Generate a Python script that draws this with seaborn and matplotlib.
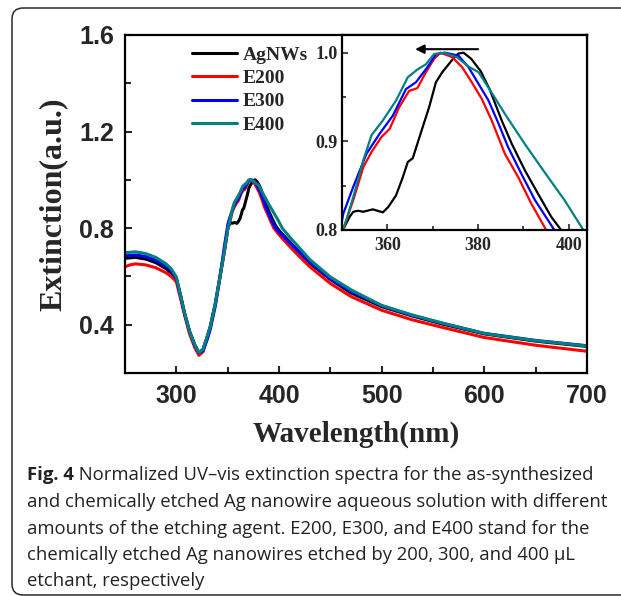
import numpy as np
import pandas as pd
import seaborn as sns
import matplotlib
matplotlib.use("Agg")
import matplotlib.pyplot as plt
from matplotlib.lines import Line2D
from matplotlib.patches import FancyBboxPatch

# ---------------- data ----------------
samples = ["AgNWs", "E200", "E300", "E400"]
colors = ["#000000", "#FF0000", "#0000FF", "#008080"]

wl_agnws = [250, 260, 270, 280, 290, 295, 300, 304, 308, 313, 318, 322, 326, 330, 333, 338, 342.5, 347,
            350.2, 351.7, 352.5, 353.5, 354.7, 356.8, 359.0, 360.2, 361.9, 363.3, 364.5, 365.6, 367.4,
            369.2, 370.7, 372.1, 374.3, 375.6, 376.8, 378.5, 380.6, 382.6, 385.2, 387.4, 390.3, 393.2,
            396.1, 398.3,
            402, 410, 420, 430, 450, 470, 500, 530, 560, 600, 650, 700]
ext_agnws = [0.675, 0.679, 0.672, 0.657, 0.632, 0.614, 0.588, 0.523, 0.447, 0.371, 0.316, 0.284, 0.298,
             0.350, 0.392, 0.489, 0.599, 0.710,
             0.800, 0.815, 0.8206, 0.8217, 0.8206, 0.8233, 0.8199, 0.826, 0.839, 0.858, 0.8767, 0.881,
             0.910, 0.9385, 0.9667, 0.978, 0.992, 0.999, 1.000, 0.993, 0.979, 0.958, 0.9236, 0.8974,
             0.8674, 0.841, 0.815, 0.800,
             0.781, 0.745, 0.700, 0.655, 0.588, 0.532, 0.475, 0.436, 0.402, 0.362, 0.332, 0.310]

wl_e200 = [250, 255, 260, 270, 280, 290, 295, 300, 304, 308, 313, 318, 322, 326, 330, 333, 338, 342.5, 347,
           350.2, 352.5, 354.7, 356.5, 358.7, 360.5, 362.6, 364.8, 366.6, 368.5, 370.3, 371.7, 374.3,
           376.5, 378.6, 380.8, 383.0, 385.9, 388.8, 391.7, 395.0,
           400, 410, 420, 430, 450, 470, 500, 530, 560, 600, 650, 700]
ext_e200 = [0.640, 0.648, 0.652, 0.648, 0.636, 0.615, 0.600, 0.578, 0.510, 0.440, 0.360, 0.305, 0.273,
            0.288, 0.345, 0.388, 0.487, 0.597, 0.708,
            0.800, 0.834, 0.871, 0.888, 0.905, 0.914, 0.9385, 0.957, 0.960, 0.978, 0.993, 1.000, 0.995,
            0.9835, 0.9667, 0.948, 0.9236, 0.886, 0.860, 0.830, 0.800,
            0.773, 0.726, 0.682, 0.640, 0.571, 0.517, 0.460, 0.420, 0.388, 0.347, 0.315, 0.290]

wl_e300 = [250, 260, 270, 280, 290, 295, 300, 304, 308, 313, 318, 322, 326, 330, 333, 338, 342.5, 347,
           350.3, 352.5, 355.4, 358.3, 361.2, 364.1, 366.3, 368.8, 370.7, 372.8, 375.7, 377.9, 380.1,
           382.3, 384.5, 386.6, 389.5, 392.5, 396.8,
           400, 410, 420, 430, 450, 470, 500, 530, 560, 600, 650, 700]
ext_e300 = [0.685, 0.689, 0.683, 0.667, 0.642, 0.624, 0.592, 0.522, 0.447, 0.370, 0.314, 0.283, 0.292,
            0.338, 0.380, 0.478, 0.597, 0.730,
            0.8187, 0.849, 0.886, 0.9087, 0.929, 0.959, 0.9667, 0.9835, 0.9985, 1.000, 0.9966, 0.9835,
            0.9648, 0.946, 0.920, 0.8936, 0.8637, 0.834, 0.800,
            0.784, 0.741, 0.700, 0.660, 0.590, 0.538, 0.478, 0.438, 0.405, 0.364, 0.335, 0.313]

wl_e400 = [250, 260, 270, 280, 290, 295, 300, 304, 308, 313, 318, 322, 326, 330, 333, 338, 342.5, 347,
           350.3, 352.5, 354.7, 356.5, 359.0, 361.9, 364.5, 366.6, 368.5, 370.3, 372.5, 375.3, 378.0,
           380.1, 382.6, 385.9, 390.3, 394.6, 399.0, 403.2,
           410, 420, 430, 450, 470, 500, 530, 560, 600, 650, 700]
ext_e400 = [0.698, 0.702, 0.695, 0.679, 0.652, 0.632, 0.598, 0.523, 0.448, 0.371, 0.316, 0.285, 0.298,
            0.350, 0.392, 0.489, 0.599, 0.710,
            0.800, 0.8375, 0.8787, 0.907, 0.9236, 0.946, 0.9723, 0.981, 0.987, 0.9985, 1.000, 0.995,
            0.984, 0.978, 0.958, 0.931, 0.897, 0.8655, 0.834, 0.800,
            0.765, 0.718, 0.670, 0.598, 0.545, 0.480, 0.440, 0.406, 0.364, 0.334, 0.312]

main_xticks = [300, 400, 500, 600, 700]
main_yticks = [0.4, 0.8, 1.2, 1.6]
inset_xticks = [360, 380, 400]
inset_yticks = [0.8, 0.9, 1.0]

caption_lines = [
    "and chemically etched Ag nanowire aqueous solution with different",
    "amounts of the etching agent. E200, E300, and E400 stand for the",
    "chemically etched Ag nanowires etched by 200, 300, and 400 \u03bcL",
    "etchant, respectively",
]
caption_head = "Fig. 4"
caption_first = " Normalized UV\u2013vis extinction spectra for the as-synthesized"

# ---------------- build ----------------
sns.set_style("ticks")
plt.rcParams["font.family"] = ["Liberation Sans", "DejaVu Sans"]

frames = []
for name, wl, ext in zip(samples, [wl_agnws, wl_e200, wl_e300, wl_e400],
                         [ext_agnws, ext_e200, ext_e300, ext_e400]):
    frames.append(pd.DataFrame({"wl": wl, "ext": ext, "sample": name}))
df = pd.concat(frames, ignore_index=True)
palette = dict(zip(samples, colors))

W, H = 621, 596
fig = plt.figure(figsize=(W / 100, H / 100), dpi=100)

def fx(px):
    return px / W

def fy(py):
    return 1 - py / H

# main axes
ax = fig.add_axes([fx(125), fy(373), fx(587) - fx(125), fy(35) - fy(373)])
sns.lineplot(data=df, x="wl", y="ext", hue="sample", hue_order=samples, palette=palette,
             sort=False, estimator=None, lw=2.2, legend=False, ax=ax)
ax.set_xlim(250, 700)
ax.set_ylim(0.2, 1.6)
ax.set_xticks(main_xticks)
ax.set_xticks([350, 450, 550, 650], minor=True)
ax.set_yticks(main_yticks)
ax.set_yticks([0.6, 1.0, 1.4], minor=True)
ax.set_xticklabels([str(t) for t in main_xticks])
ax.set_yticklabels([f"{t:.1f}" for t in main_yticks])
for lab in ax.get_xticklabels() + ax.get_yticklabels():
    lab.set_fontfamily(["Liberation Sans"])
    lab.set_fontweight("bold")
    lab.set_fontsize(18)
ax.tick_params(which="both", direction="in", width=1.5, top=False, right=False)
ax.tick_params(which="major", length=5, pad=8)
ax.tick_params(which="minor", length=4)
for s in ax.spines.values():
    s.set_linewidth(1.6)
    s.set_visible(True)
    s.set_color("black")
ax.set_xlabel("Wavelength(nm)", fontfamily=["Liberation Serif"], fontweight="bold",
              fontsize=21, labelpad=9)
ax.set_ylabel("Extinction(a.u.)", fontfamily=["Liberation Serif"], fontweight="bold",
              fontsize=23, labelpad=8)

handles = [Line2D([], [], color=c, lw=2.2) for c in colors]
ax.legend(handles, samples, loc="upper left", bbox_to_anchor=((192 - 125) / 462, (373 - 46) / 338),
          frameon=False, prop=dict(family="Liberation Serif", weight="bold", size=14),
          handlelength=2.3, handletextpad=0.3, labelspacing=0.3, borderaxespad=0, borderpad=0)

# inset axes
axin = fig.add_axes([fx(342), fy(230), fx(587) - fx(342), fy(35) - fy(230)])
sns.lineplot(data=df, x="wl", y="ext", hue="sample", hue_order=samples, palette=palette,
             sort=False, estimator=None, lw=1.6, legend=False, ax=axin)
axin.set_xlim(350, 404)
axin.set_ylim(0.8, 1.02)
axin.set_xticks(inset_xticks)
axin.set_xticks([370, 390], minor=True)
axin.set_yticks(inset_yticks)
axin.set_yticks([0.85, 0.95], minor=True)
axin.set_xticklabels([str(t) for t in inset_xticks])
axin.set_yticklabels([f"{t:.1f}" for t in inset_yticks])
for lab in axin.get_xticklabels() + axin.get_yticklabels():
    lab.set_fontfamily(["Liberation Serif"])
    lab.set_fontweight("bold")
    lab.set_fontsize(13)
axin.tick_params(which="both", direction="in", width=1.2, top=False, right=False)
axin.tick_params(which="major", length=4)
axin.tick_params(axis="x", which="major", pad=5)
axin.tick_params(axis="y", which="major", pad=3)
axin.tick_params(which="minor", length=3)
for s in axin.spines.values():
    s.set_linewidth(1.6)
    s.set_visible(True)
    s.set_color("black")
axin.set_xlabel("")
axin.set_ylabel("")
axin.annotate("", xy=(365.5, 1.004), xytext=(380.6, 1.004),
              arrowprops=dict(arrowstyle="-|>", color="black", lw=1.5, mutation_scale=13))

# frame around figure + caption
box = FancyBboxPatch((fx(12), fy(595)), 1.2, fy(8) - fy(595),
                     boxstyle="round,pad=0,rounding_size=0.018", transform=fig.transFigure,
                     fill=False, ec="#2a2a2a", lw=1.1, clip_on=False)
fig.add_artist(box)

cap_font = dict(family=["Open Sans", "DejaVu Sans"], size=13.3, color="#222222")
x0 = fx(27)
head = fig.text(x0, fy(480), caption_head, fontweight="bold", va="baseline", ha="left", **cap_font)
fig.canvas.draw()
bb = head.get_window_extent(renderer=fig.canvas.get_renderer())
fig.text(bb.x1 / W, fy(480), caption_first, va="baseline", ha="left", **cap_font)
for i, line in enumerate(caption_lines):
    fig.text(x0, fy(507 + 26.5 * i), line, va="baseline", ha="left", **cap_font)

fig.savefig("out.png", dpi=100)
